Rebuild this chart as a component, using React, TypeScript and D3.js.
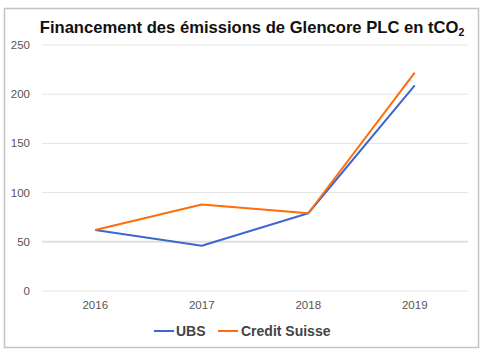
import React from "react";
import * as d3 from "d3";

const years = ["2016", "2017", "2018", "2019"];
const ubs = [62, 46, 79, 209];
const creditSuisse = [62, 88, 79, 222];
const yTicks = [0, 50, 100, 150, 200, 250];
const seriesNames = ["UBS", "Credit Suisse"];
const colors = ["#3c67d1", "#ff6d0a"];

export default function App() {
  const W = 489, H = 357;
  const x = d3.scaleBand<string>().domain(years).range([42, 468]);
  const y = d3.scaleLinear().domain([0, 250]).range([291, 45]);
  const line = d3.line<number>()
    .x((_, i) => (x(years[i]) as number) + x.bandwidth() / 2)
    .y((d) => y(d));
  const series = [ubs, creditSuisse];
  const font = "'Liberation Sans', Arial, Helvetica, sans-serif";
  return (
    <svg width={W} height={H} style={{ position: "absolute", left: 0, top: 0, fontFamily: font }}>
      <rect x={0} y={0} width={W} height={H} fill="#fff" />
      <rect x={4.5} y={8.5} width={474} height={339} fill="#fff" stroke="#c4c4c4" strokeWidth={1.5} />
      <text x={252} y={32.5} textAnchor="middle" fontSize={16.6} fontWeight="bold" fill="#111">
        Financement des émissions de Glencore PLC en tCO
        <tspan fontSize={10.5} dy={3.5}>2</tspan>
      </text>
      {yTicks.map((t) => (
        <g key={t}>
          <line x1={42} x2={468} y1={y(t)} y2={y(t)} stroke={t === 50 ? "#e0e0e0" : "#e4e4e4"} strokeWidth={t === 50 ? 2 : 1} />
          <text x={30} y={y(t)} dy="0.35em" textAnchor="end" fontSize={11.5} fill="#555">{t}</text>
        </g>
      ))}
      {years.map((yr) => (
        <text key={yr} x={(x(yr) as number) + x.bandwidth() / 2} y={309} textAnchor="middle" fontSize={11.5} fill="#555">{yr}</text>
      ))}
      {series.map((s, i) => (
        <path key={i} d={line(s) as string} fill="none" stroke={colors[i]} strokeWidth={2} strokeLinejoin="round" />
      ))}
      <g fontSize={14} fontWeight="bold" fill="#444">
        <line x1={154} x2={174} y1={331} y2={331} stroke={colors[0]} strokeWidth={2} />
        <text x={176} y={336}>{seriesNames[0]}</text>
        <line x1={218} x2={238} y1={331} y2={331} stroke={colors[1]} strokeWidth={2} />
        <text x={241} y={336}>{seriesNames[1]}</text>
      </g>
    </svg>
  );
}
